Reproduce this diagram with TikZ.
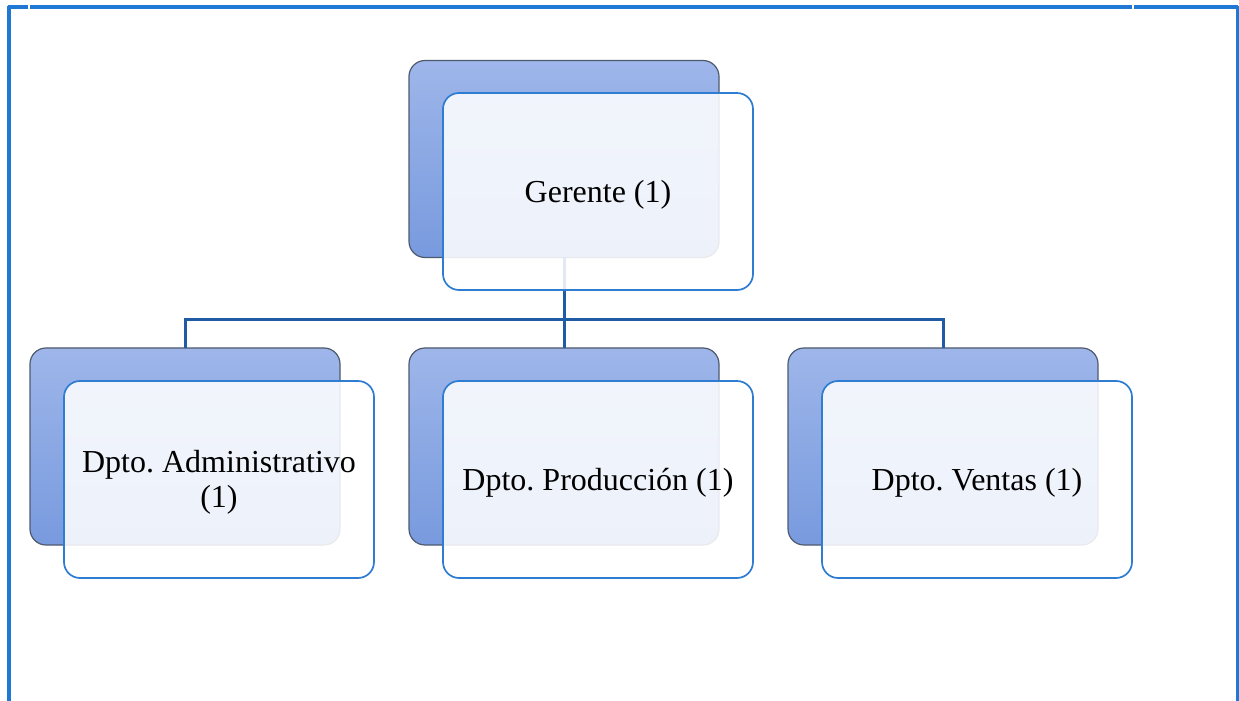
\documentclass[tikz,border=0pt]{standalone}
\usepackage{fontspec}
\setmainfont{Liberation Serif}
\frenchspacing
\definecolor{frameblue}{HTML}{1E78D4}
\definecolor{connblue}{HTML}{1F5CA3}
\definecolor{backtop}{HTML}{9EB6EA}
\definecolor{backbot}{HTML}{789ADE}
\definecolor{backline}{HTML}{4F5A6E}
\definecolor{frontline}{HTML}{2E7DD2}
\begin{document}
\begin{tikzpicture}[x=0.5pt,y=-0.5pt,
  backbox/.style={draw=backline, line width=0.6pt, rounded corners=8pt,
    top color=backtop, bottom color=backbot, minimum width=155pt, minimum height=98.5pt,
    inner sep=0pt, outer sep=0pt},
  frontbox/.style={draw=frontline, line width=0.85pt, rounded corners=8pt,
    fill=white, fill opacity=0.87, minimum width=155pt, minimum height=98.5pt,
    inner sep=0pt, outer sep=0pt,
    label={[boxtext]center:#1}},
  boxtext/.style={align=center, yshift=-1.5pt, inner sep=0pt, text opacity=1, fill opacity=1,
    font=\fontsize{16}{17.5}\selectfont},
  conn/.style={draw=connblue, line width=1.5pt},
  framel/.style={draw=frameblue, line width=1.6pt}]
\useasboundingbox (0,0) rectangle (1239,701);
% frame
\draw[framel] (8,7) -- (28,7);
\draw[framel] (30,7) -- (1132,7);
\draw[framel] (1134,7) -- (1238,7);
\draw[framel] (9,6) -- (9,701);
\draw[framel] (1237.5,6) -- (1237.5,701);
% back boxes
\node[backbox] (gb) at (564,159) {};
\node[backbox] (ab) at (185,446.5) {};
\node[backbox] (pb) at (564,446.5) {};
\node[backbox] (vb) at (943,446.5) {};
% connectors
\coordinate (bus) at (564,320);
\draw[conn] (gb.south) -- (bus);
\draw[conn] (ab.north) |- (bus) -| (vb.north);
\draw[conn] (bus) -- (pb.north);
% front boxes
\node[frontbox={Gerente (1)}] (gf) at (598,191.5) {};
\node[frontbox={Dpto. Administrativo\\(1)}] (af) at (219,479.5) {};
\node[frontbox={Dpto. Producción (1)}] (pf) at (598,479.5) {};
\node[frontbox={Dpto. Ventas (1)}] (vf) at (977,479.5) {};
\end{tikzpicture}
\end{document}
